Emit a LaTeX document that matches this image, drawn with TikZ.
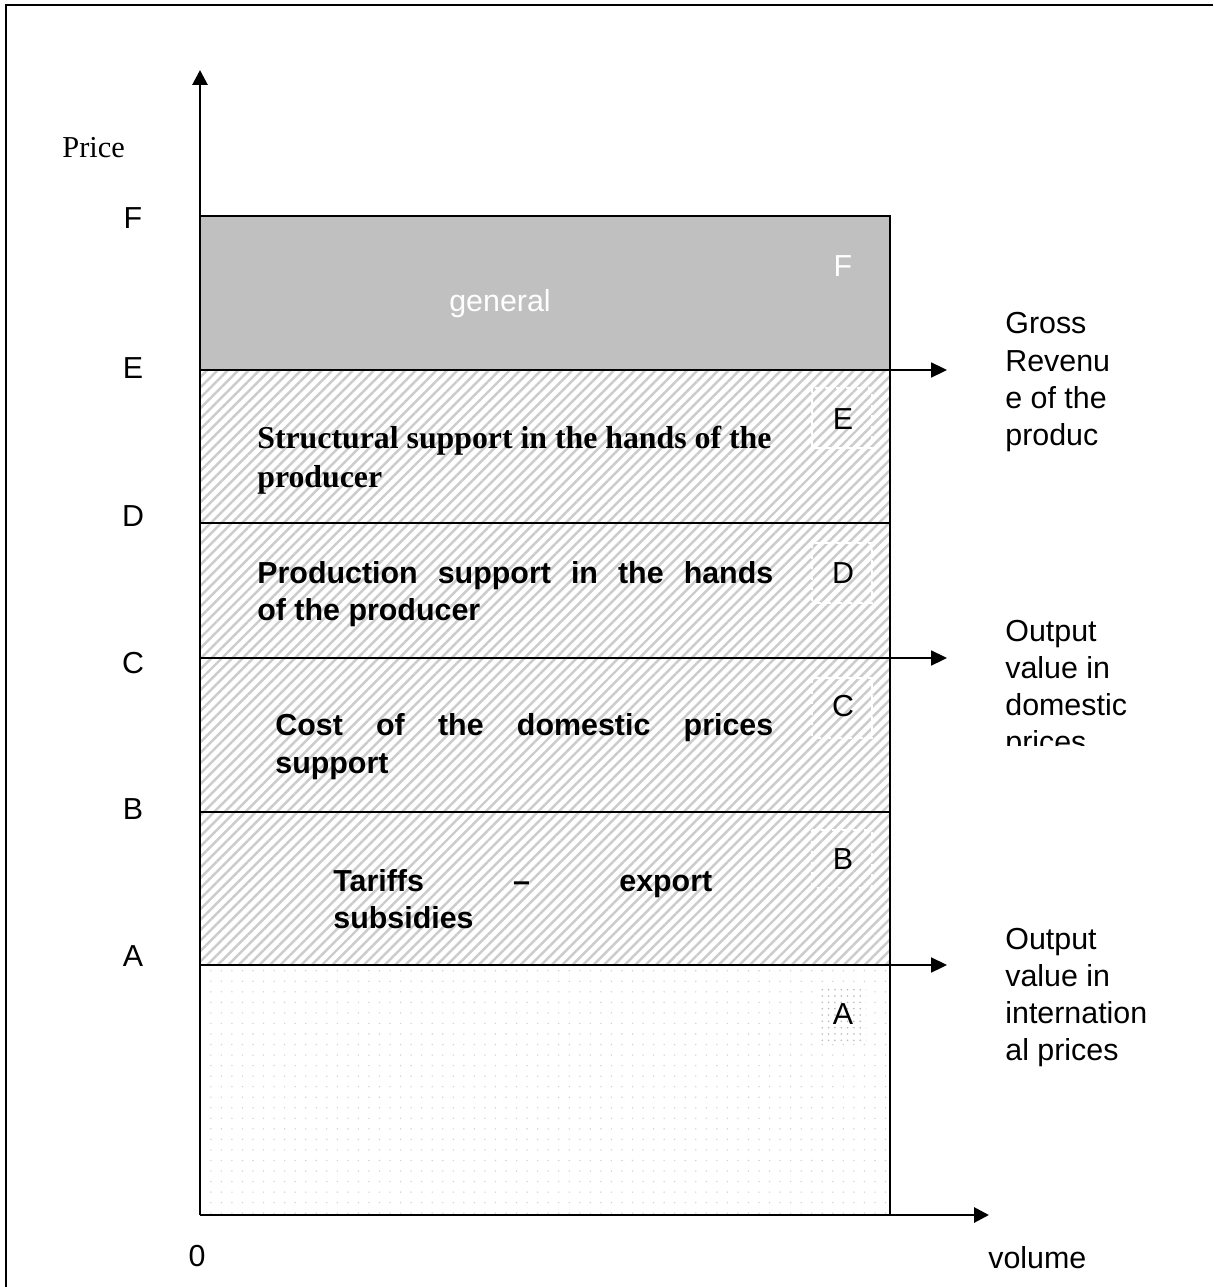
\documentclass[tikz,border=0pt]{standalone}
\usepackage{fontspec}
\setmainfont{Liberation Serif}
\setsansfont{Liberation Sans}
\usetikzlibrary{patterns.meta,arrows.meta}
\definecolor{blockgray}{HTML}{C0C0C0}
\begin{document}
\begin{tikzpicture}[x=0.02cm,y=-0.02cm,
  lab/.style={font=\sffamily\fontsize{17.3}{21}\selectfont, inner sep=0pt, anchor=base},
  rlab/.style={lab, anchor=base west},
  wlab/.style={lab, text=white},
  bsans/.style={font=\sffamily\bfseries\fontsize{17.3}{21}\selectfont, inner sep=0pt, anchor=base west},
  bserif/.style={font=\rmfamily\bfseries\fontsize{18.1}{21}\selectfont, inner sep=0pt, anchor=base west},
  serif/.style={font=\rmfamily\fontsize{17.3}{21}\selectfont, inner sep=0pt, anchor=base west},
  axisarrow/.style={line width=1.6pt, -{Triangle[length=8.5pt,width=8.5pt]}},
  outarrow/.style={line width=1pt, -{Triangle[length=9pt,width=8.5pt]}},
  sepline/.style={line width=1.1pt},
  hatch/.style={pattern={Lines[angle=45,distance=4.2pt,line width=1.4pt]}, pattern color=gray!40},
  dotfill/.style={pattern={Dots[distance=6pt,radius=0.45pt]}, pattern color=gray!35},
  darkdots/.style={pattern={Dots[distance=3.6pt,radius=0.5pt]}, pattern color=gray!55},
  markbox/.style={draw=white, dashed, line width=0.8pt},
]
\useasboundingbox (0,0) rectangle (1213,1287);
% frame
\draw[line width=1.2pt] (6,1287) -- (6,5) -- (1213,5);

% regions
\fill[blockgray] (200,216) rectangle (890,370);
\fill[white] (200,370) rectangle (890,965);
\fill[hatch] (200,370) rectangle (890,965);
\fill[white] (200,965) rectangle (890,1215);
\fill[dotfill] (200,965) rectangle (890,1215);

% marker boxes
\draw[markbox] (812,388) rectangle (872,448);
\draw[markbox] (812,543) rectangle (872,603);
\draw[markbox] (812,678) rectangle (872,738);
\draw[markbox] (812,830) rectangle (872,888);
\fill[white] (818,985) rectangle (866,1041);
\fill[darkdots] (818,985) rectangle (866,1041);

% coordinates
\coordinate (O) at (200,1215);
\coordinate (ytip) at (200,70);
\coordinate (xtip) at (989,1215);
\coordinate (eL) at (200,370);
\coordinate (eR) at (890,370);
\coordinate (eT) at (947,370);
\coordinate (dL) at (200,523);
\coordinate (dR) at (890,523);
\coordinate (cL) at (200,658);
\coordinate (cR) at (890,658);
\coordinate (cT) at (947,658);
\coordinate (bL) at (200,812);
\coordinate (bR) at (890,812);
\coordinate (aL) at (200,965);
\coordinate (aR) at (890,965);
\coordinate (aT) at (947,965);
\coordinate (fL) at (200,216);
\coordinate (fR) at (890,216);
\coordinate (bottomR) at (890,1215);

% box outline and level lines
\draw[sepline] (fL) -- (fR) -- (bottomR);
\draw[sepline] (eL) -- (eR);
\draw[sepline] (dL) -- (dR);
\draw[sepline] (cL) -- (cR);
\draw[sepline] (bL) -- (bR);
\draw[sepline] (aL) -- (aR);

% axes
\draw[axisarrow] (O) -- (ytip);
\draw[axisarrow] (O) -- (xtip);

% output arrows
\draw[outarrow] (eR) -- (eT);
\draw[outarrow] (cR) -- (cT);
\draw[outarrow] (aR) -- (aT);

% axis labels
\node[serif] (price) at (62,158) {Price};
\node[lab] (zero) at (197,1266) {0};
\node[rlab] (vol) at (988,1268) {volume};
\node[lab] (lF) at (133,229) {F};
\node[lab] (lE) at (133,378) {E};
\node[lab] (lD) at (133,526) {D};
\node[lab] (lC) at (133,673) {C};
\node[lab] (lB) at (133,819) {B};
\node[lab] (lA) at (133,966) {A};

% inner labels
\node[wlab] (gen) at (500,312) {general};
\node[wlab] (iF) at (843,276) {F};
\node[lab] (iE) at (843,429) {E};
\node[lab] (iD) at (843,583) {D};
\node[lab] (iC) at (843,716) {C};
\node[lab] (iB) at (843,869) {B};
\node[lab] (iA) at (843,1024) {A};

% region texts
\node[bserif] (s1) at (257,448) {Structural support in the hands of the};
\node[bserif] (s2) at (257,487) {producer};
\node[bsans] (p1) at (257,583) {\makebox[10.32cm][s]{Production support in the hands}};
\node[bsans] (p2) at (257,620) {of the producer};
\node[bsans] (c1) at (275,735) {\makebox[9.96cm][s]{Cost of the domestic prices}};
\node[bsans] (c2) at (275,773) {support};
\node[bsans] (t1) at (333,891) {\makebox[7.58cm][s]{Tariffs \hfill -- \hfill export}};
\node[bsans] (t2) at (333,928) {subsidies};

% right-hand texts
\node[rlab] (g1) at (1005,334) {Gross};
\node[rlab] (g2) at (1005,371) {Revenu};
\node[rlab] (g3) at (1005,408) {e of the};
\node[rlab] (g4) at (1005,445) {produc};
\node[rlab] (o1) at (1005,641) {Output};
\node[rlab] (o2) at (1005,678) {value in};
\node[rlab] (o3) at (1005,715) {domestic};
\begin{scope}
\clip (990,720) rectangle (1213,745);
\node[rlab] (o4) at (1005,752) {prices};
\end{scope}
\node[rlab] (i1) at (1005,949) {Output};
\node[rlab] (i2) at (1005,986) {value in};
\node[rlab] (i3) at (1005,1023) {internation};
\node[rlab] (i4) at (1005,1060) {al prices};
\end{tikzpicture}
\end{document}
